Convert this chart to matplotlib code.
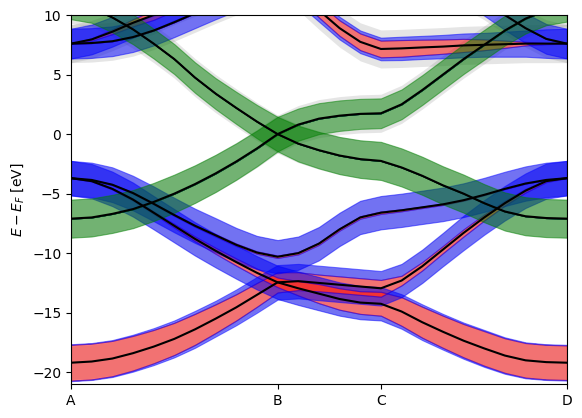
import numpy as np
import matplotlib.pyplot as plt

# k-path: A-B-C-D, sampled every 0.1
k = np.linspace(0, 2.4, 25)
k_ticks = [0.0, 1.0, 1.5, 2.4]
k_labels = ["A", "B", "C", "D"]

# band energies [eV]
e_L1 = [-19.2, -19.1, -18.85, -18.4, -17.85, -17.2, -16.4, -15.5, -14.55, -13.5, -12.45,
        -12.35, -12.5, -12.65, -12.8, -12.95,
        -12.3, -11.1, -9.7, -8.3, -7.0, -5.8, -4.75, -3.95, -3.7]
e_P2 = [-3.7, -3.95, -4.6, -5.5, -6.6, -7.7, -8.8, -9.8, -10.75, -11.65, -12.45,
        -12.95, -13.4, -13.85, -14.15, -14.25,
        -14.9, -15.8, -16.6, -17.35, -18.0, -18.6, -19.0, -19.15, -19.2]
e_P1 = [-3.7, -3.85, -4.25, -4.95, -5.85, -6.8, -7.7, -8.5, -9.3, -9.95, -10.3,
        -10.0, -9.2, -8.0, -7.0, -6.6,
        -6.4, -6.15, -5.9, -5.55, -5.1, -4.6, -4.15, -3.85, -3.7]
e_G1 = [-7.1, -7.0, -6.7, -6.3, -5.7, -5.0, -4.2, -3.3, -2.3, -1.2, 0.0,
        0.8, 1.3, 1.55, 1.7, 1.75,
        2.5, 3.7, 5.0, 6.3, 7.5, 8.7, 9.7, 10.4, 10.7]
e_G2 = [10.9, 10.6, 9.8, 8.8, 7.6, 6.3, 4.75, 3.4, 2.2, 1.05, 0.0,
        -0.8, -1.35, -1.8, -2.1, -2.25,
        -2.8, -3.5, -4.3, -5.0, -5.8, -6.5, -6.9, -7.05, -7.1]
e_S1 = [7.6, 7.95, 8.6, 9.35, 10.0, 10.8, 11.5, 12.2, 12.8, 13.2, 13.4,
        12.0, 10.4, 8.9, 7.75, 7.15,
        7.2, 7.28, 7.35, 7.45, 7.5, 7.55, 7.6, 7.6, 7.6]
e_S2 = [7.6, 7.65, 7.8, 8.15, 8.7, 9.4, 10.15, 10.9, 11.6, 12.2, 12.5,
        12.9, 13.3, 13.6, 13.8, 13.9,
        13.8, 13.5, 13.0, 12.2, 11.2, 10.0, 8.9, 8.0, 7.6]

# projected weights (half-widths in eV): s (red), p (blue), pz (green)
s_L1 = [1.5, 1.5, 1.48, 1.45, 1.4, 1.35, 1.3, 1.2, 1.1, 1.0, 0.85,
        0.75, 0.7, 0.7, 0.7, 0.7,
        0.4, 0.35, 0.3, 0.3, 0.25, 0.2, 0.15, 0.08, 0.0]
p_L1 = [0.05, 0.05, 0.07, 0.1, 0.15, 0.2, 0.25, 0.3, 0.4, 0.5, 0.6,
        0.7, 0.75, 0.75, 0.75, 0.75,
        1.0, 1.05, 1.1, 1.15, 1.2, 1.25, 1.3, 1.4, 1.45]
s_P2 = [0.0, 0.02, 0.05, 0.08, 0.1, 0.15, 0.2, 0.25, 0.3, 0.35, 0.4,
        0.6, 0.8, 0.9, 0.95, 1.0,
        1.2, 1.3, 1.35, 1.4, 1.45, 1.45, 1.45, 1.45, 1.45]
p_P2 = [1.45, 1.42, 1.4, 1.35, 1.3, 1.25, 1.2, 1.15, 1.1, 1.05, 1.0,
        0.8, 0.6, 0.5, 0.45, 0.4,
        0.25, 0.2, 0.15, 0.12, 0.1, 0.08, 0.06, 0.05, 0.05]
s_P1 = [0.0, 0.02, 0.04, 0.05, 0.06, 0.07, 0.08, 0.1, 0.1, 0.1, 0.1,
        0.1, 0.1, 0.1, 0.1, 0.1,
        0.08, 0.06, 0.05, 0.04, 0.03, 0.02, 0.01, 0.0, 0.0]
p_P1 = [1.45, 1.43, 1.42, 1.4, 1.4, 1.38, 1.36, 1.34, 1.32, 1.3, 1.3,
        1.3, 1.3, 1.3, 1.3, 1.3,
        1.32, 1.34, 1.36, 1.38, 1.4, 1.42, 1.43, 1.45, 1.45]
z_G1 = [1.6, 1.6, 1.6, 1.6, 1.6, 1.6, 1.58, 1.56, 1.53, 1.5, 1.45,
        1.35, 1.3, 1.28, 1.26, 1.25,
        1.25, 1.25, 1.25, 1.25, 1.25, 1.25, 1.25, 1.25, 1.25]
z_G2 = [1.25, 1.25, 1.25, 1.25, 1.25, 1.26, 1.28, 1.3, 1.35, 1.4, 1.45,
        1.5, 1.53, 1.56, 1.58, 1.6,
        1.6, 1.6, 1.6, 1.6, 1.6, 1.6, 1.6, 1.6, 1.6]
s_S1 = [0.0, 0.1, 0.2, 0.3, 0.4, 0.45, 0.5, 0.5, 0.5, 0.5, 0.5,
        0.55, 0.6, 0.65, 0.7, 0.7,
        0.7, 0.65, 0.6, 0.55, 0.45, 0.3, 0.15, 0.05, 0.0]
p_S1 = [1.25, 1.15, 1.05, 0.95, 0.85, 0.8, 0.75, 0.7, 0.7, 0.7, 0.7,
        0.5, 0.35, 0.3, 0.25, 0.25,
        0.28, 0.32, 0.38, 0.45, 0.55, 0.75, 0.95, 1.15, 1.25]
p_S2 = [1.25] * 25
zero = [0.0] * 25

# total weight (gray), one value per band
tot_L1, tot_P2, tot_P1 = 1.4, 1.4, 1.4
tot_G1, tot_G2, tot_S1, tot_S2 = 1.6, 1.6, 1.6, 1.6

bands = [
    (e_L1, s_L1, p_L1, zero, tot_L1),
    (e_P2, s_P2, p_P2, zero, tot_P2),
    (e_P1, s_P1, p_P1, zero, tot_P1),
    (e_G1, zero, zero, z_G1, tot_G1),
    (e_G2, zero, zero, z_G2, tot_G2),
    (e_S1, s_S1, p_S1, zero, tot_S1),
    (e_S2, zero, p_S2, zero, tot_S2),
]

fig, ax = plt.subplots(figsize=(5.82, 4.18))
fig.subplots_adjust(left=0.122, right=0.974, bottom=0.081, top=0.964)

# total width in gray
for e, s, p, z, t in bands:
    e = np.array(e)
    ax.fill_between(k, e - t, e + t, color="gray", alpha=0.2, lw=0)

# s orbitals (red, centred)
for e, s, p, z, t in bands:
    e, s = np.array(e), np.array(s)
    ax.fill_between(k, e - s, e + s, fc="r", ec="r", alpha=0.5, lw=0.8)

# p orbitals (blue, stacked on s)
for e, s, p, z, t in bands:
    e, s, p = np.array(e), np.array(s), np.array(p)
    ax.fill_between(k, e + s, e + s + p, fc="b", ec="b", alpha=0.5, lw=0.8)
    ax.fill_between(k, e - s - p, e - s, fc="b", ec="b", alpha=0.5, lw=0.8)

# pz orbitals (green, stacked on s + p)
for e, s, p, z, t in bands:
    if max(z) == 0:
        continue
    e, s, p, z = np.array(e), np.array(s), np.array(p), np.array(z)
    ax.fill_between(k, e + s + p, e + s + p + z, fc="g", ec="g", alpha=0.5, lw=0.8)
    ax.fill_between(k, e - s - p - z, e - s - p, fc="g", ec="g", alpha=0.5, lw=0.8)

for e, s, p, z, t in bands:
    ax.plot(k, e, "k", lw=1.5)

ax.set_xlim(0, 2.4)
ax.set_ylim(-21, 10)
ax.set_xticks(k_ticks, k_labels)
ax.set_ylabel(r"$E - E_F$ [eV]")

plt.savefig("out.png", dpi=100)
